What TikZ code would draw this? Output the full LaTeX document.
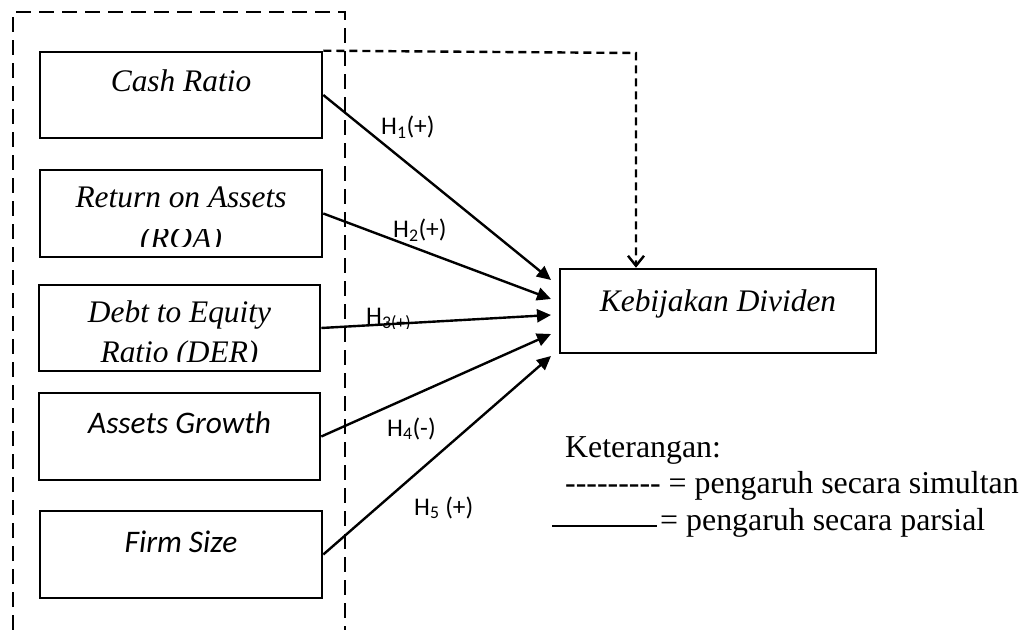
\documentclass[tikz,border=0pt]{standalone}
\usepackage{fontspec}
\setmainfont{Liberation Serif}
\newfontfamily\carlito{Carlito}
\usetikzlibrary{arrows.meta,calc}
\begin{document}
\begin{tikzpicture}[x=1bp,y=-1bp,
  box/.style={draw, line width=2.6bp, minimum width=282bp, minimum height=86bp, inner sep=0pt},
  txt/.style={inner sep=0pt, anchor=base, font=\fontsize{31.5}{40}\selectfont\itshape},
  ctxt/.style={inner sep=0pt, anchor=base, font=\fontsize{31.5}{40}\selectfont\carlito\itshape},
  lbl/.style={inner sep=0pt, anchor=base west, font=\fontsize{25.5}{30}\selectfont\carlito},
  leg/.style={inner sep=0pt, anchor=base west, font=\fontsize{32}{40}\selectfont},
  arr/.style={line width=2.4bp, -{Triangle[length=14bp,width=13bp]}},
  sim/.style={line width=2.4bp, dash pattern=on 8bp off 5bp, -{Straight Barb[length=10bp,width=16bp]}},
  outer/.style={line width=2.6bp, dash pattern=on 15bp off 8bp}
]
\useasboundingbox (0,0) rectangle (1024,630);

% outer dashed frame
\coordinate (o1) at (13,630);
\coordinate (o2) at (13,12);
\coordinate (o3) at (345,12);
\coordinate (o4) at (345,630);
\draw[outer] (o1) -- (o2) -- (o3) -- (o4);

% boxes
\node[box] (cash) at (181,95) {};
\node[box, minimum height=87bp] (roa) at (181,213.5) {};
\node[box, minimum width=281bp] (der) at (179.5,328) {};
\node[box, minimum width=281bp, minimum height=87bp] (ag) at (179.5,436.5) {};
\node[box, minimum height=87bp] (fs) at (181,554.5) {};
\node[box, minimum width=316bp, minimum height=84bp] (kd) at (718,311) {};

% box texts
\node[txt] (cashT) at (181,92) {Cash Ratio};
\node[txt] (roaT1) at (181,208) {Return on Assets};
\begin{scope}
\clip (40,230) rectangle (322,247);
\node[txt] (roaT2) at (181,249) {(ROA)};
\end{scope}
\node[txt] (derT1) at (179.5,322) {Debt to Equity};
\begin{scope}
\clip (39,340) rectangle (320,361);
\node[txt] (derT2) at (179.5,362) {Ratio (DER)};
\end{scope}
\node[ctxt] (agT) at (179.5,433) {Assets Growth};
\node[ctxt] (fsT) at (181,552) {Firm Size};
\node[txt] (kdT) at (718,311) {Kebijakan Dividen};

% simultaneous (dashed) arrow
\coordinate (dtop) at (636,53);
\draw[sim] (cash.north east) -- (dtop) -- (dtop |- kd.north);

% partial arrows
\coordinate (t1) at (551,280);
\coordinate (t2) at (551,299);
\coordinate (t3) at (551,315);
\coordinate (t4) at (551,334);
\coordinate (t5) at (551,356);
\draw[arr] (cash.east) -- (t1);
\draw[arr] (roa.east) -- (t2);
\draw[arr] (der.east) -- (t3);
\draw[arr] (ag.east) -- (t4);
\draw[arr] (fs.east) -- (t5);

% hypothesis labels
\node[lbl] (h1) at (381,135) {H\textsubscript{1}(+)};
\node[lbl] (h2) at (393,238) {H\textsubscript{2}(+)};
\begin{scope}
\clip (360,300) rectangle (420,328);
\node[lbl] (h3) at (366,324) {H\textsubscript{3(+)}};
\end{scope}
\node[lbl] (h4) at (387,436) {H\textsubscript{4}(-)};
\node[lbl] (h5) at (414,515) {H\textsubscript{5} (+)};

% legend
\node[leg] (k0) at (565,457) {Keterangan:};
\node[leg] (k1) at (565,493) {-{}-{}-{}-{}-{}-{}-{}-{}- = pengaruh secara simultan};
\coordinate (la) at (552,526);
\coordinate (lb) at (657,526);
\draw[line width=2.6bp] (la) -- (lb);
\node[leg] (k2) at (660,530) {= pengaruh secara parsial};
\end{tikzpicture}
\end{document}
